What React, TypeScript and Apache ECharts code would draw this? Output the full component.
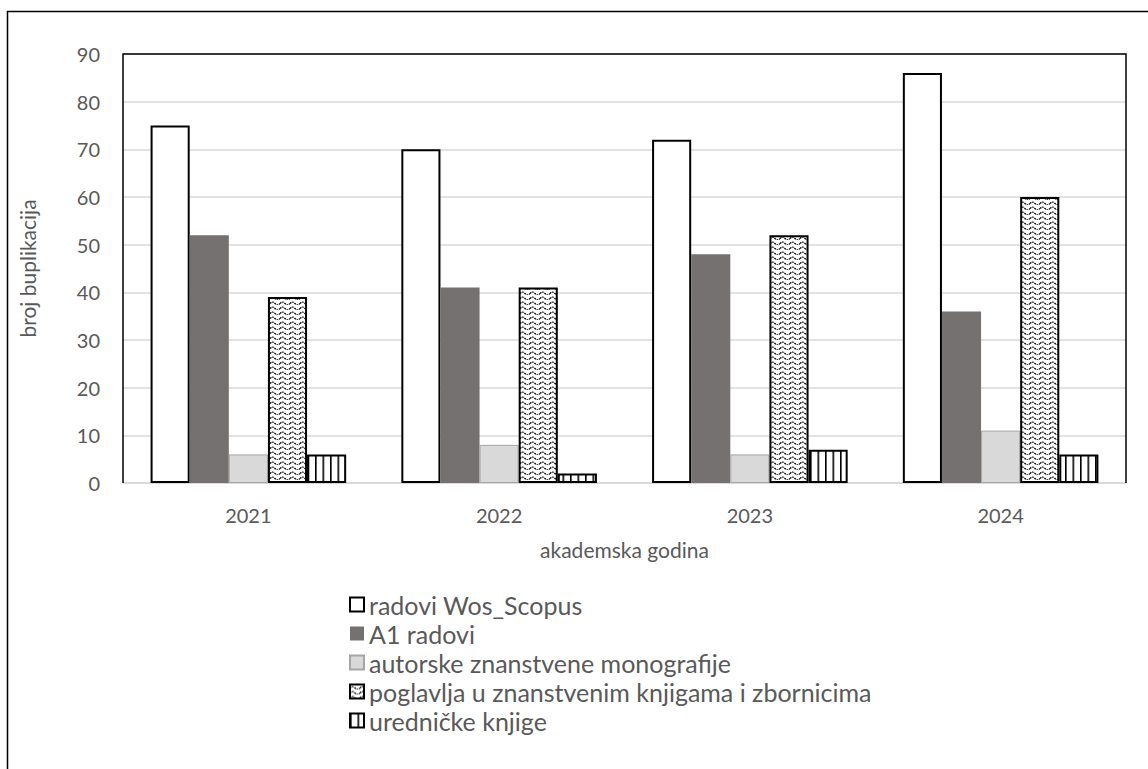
import React, { useEffect, useRef } from "react";
import * as echarts from "echarts";

const categories = ["2021", "2022", "2023", "2024"];
const seriesNames = [
  "radovi Wos_Scopus",
  "A1 radovi",
  "autorske znanstvene monografije",
  "poglavlja u znanstvenim knjigama i zbornicima",
  "uredničke knjige",
];
const wosScopus = [75, 70, 72, 86];
const a1Radovi = [52, 41, 48, 36];
const monografije = [6, 8, 6, 11];
const poglavlja = [39, 41, 52, 60];
const urednicke = [6, 2, 7, 6];
const yTicks = { min: 0, max: 90, interval: 10 };

const FONT = "Lato, 'Open Sans', sans-serif";
const TEXT = "#595959";

const waveSvg =
  "data:image/svg+xml;utf8," +
  encodeURIComponent(
    "<svg xmlns='http://www.w3.org/2000/svg' width='10' height='5'><rect width='10' height='5' fill='white'/><path d='M0 3.5 Q2.5 0.8 5 3.5 T10 3.5' fill='none' stroke='black' stroke-width='1.2' stroke-dasharray='1.6 0.9'/></svg>"
  );
const stripeSvg =
  "data:image/svg+xml;utf8," +
  encodeURIComponent(
    "<svg xmlns='http://www.w3.org/2000/svg' width='7.5' height='4'><rect width='7.5' height='4' fill='white'/><rect x='0' y='0' width='1.6' height='4' fill='black'/></svg>"
  );

export default function App() {
  const ref = useRef<HTMLDivElement>(null);
  useEffect(() => {
    if (!ref.current) return;
    const chart = echarts.init(ref.current, null, { renderer: "svg" });
    const wave: any = { image: waveSvg, repeat: "repeat", imageWidth: 10, imageHeight: 5 };
    const stripes: any = { image: stripeSvg, repeat: "repeat", imageWidth: 7.5, imageHeight: 4 };
    const styles: any[] = [
      { color: "#ffffff", borderColor: "#000000", borderWidth: 2 },
      { color: "#767171", borderColor: "#767171", borderWidth: 0 },
      { color: "#d9d9d9", borderColor: "#a6a6a6", borderWidth: 1 },
      { color: wave, borderColor: "#000000", borderWidth: 2 },
      { color: stripes, borderColor: "#000000", borderWidth: 2 },
    ];
    const dataSets = [wosScopus, a1Radovi, monografije, poglavlja, urednicke];
    const gl = 123, gr = 1126, gt = 54, gb = 483;
    chart.setOption({
      animation: false,
      textStyle: { fontFamily: FONT },
      grid: { left: gl, right: 1148 - gr, top: gt, bottom: 769 - gb, containLabel: false },
      graphic: [
        {
          type: "polyline",
          shape: { points: [[7.5, 769], [7.5, 11.5], [1148, 11.5]] },
          style: { stroke: "#000", lineWidth: 1.5, fill: "none" },
          z: 10,
        },
        {
          type: "polyline",
          shape: { points: [[gl, gb], [gl, gt], [gr, gt], [gr, gb]] },
          style: { stroke: "#000", lineWidth: 1.5, fill: "none" },
          z: 10,
        },
      ],
      xAxis: {
        type: "category",
        data: categories,
        axisLine: { lineStyle: { color: "#d9d9d9", width: 2 } },
        axisTick: { show: false },
        axisLabel: { fontSize: 20, color: TEXT, margin: 22, fontFamily: FONT },
        name: "akademska godina",
        nameLocation: "middle",
        nameGap: 56,
        nameTextStyle: { fontSize: 21, color: TEXT, fontFamily: FONT },
      },
      yAxis: {
        type: "value",
        min: yTicks.min,
        max: yTicks.max,
        interval: yTicks.interval,
        axisLine: { show: false },
        axisTick: { show: false },
        splitLine: { lineStyle: { color: "#d9d9d9", width: 1.5 } },
        axisLabel: { fontSize: 20, color: TEXT, margin: 23, fontFamily: FONT },
        name: "broj buplikacija",
        nameLocation: "middle",
        nameGap: 85,
        nameRotate: 90,
        nameTextStyle: { fontSize: 21, color: TEXT, fontFamily: FONT },
      },
      legend: {
        orient: "vertical",
        left: 349,
        top: 592,
        padding: 0,
        itemWidth: 14,
        itemHeight: 14,
        itemGap: 4,
        icon: "rect",
        textStyle: { fontSize: 25, color: TEXT, fontFamily: FONT },
        data: seriesNames,
      },
      series: seriesNames.map((name, i) => ({
        name,
        type: "bar",
        data: dataSets[i],
        barGap: "0%",
        barCategoryGap: "22%",
        itemStyle: styles[i],
      })),
    });
    return () => chart.dispose();
  }, []);
  return (
    <div
      ref={ref}
      style={{ position: "absolute", left: 0, top: 0, width: 1148, height: 769, background: "#fff" }}
    />
  );
}
